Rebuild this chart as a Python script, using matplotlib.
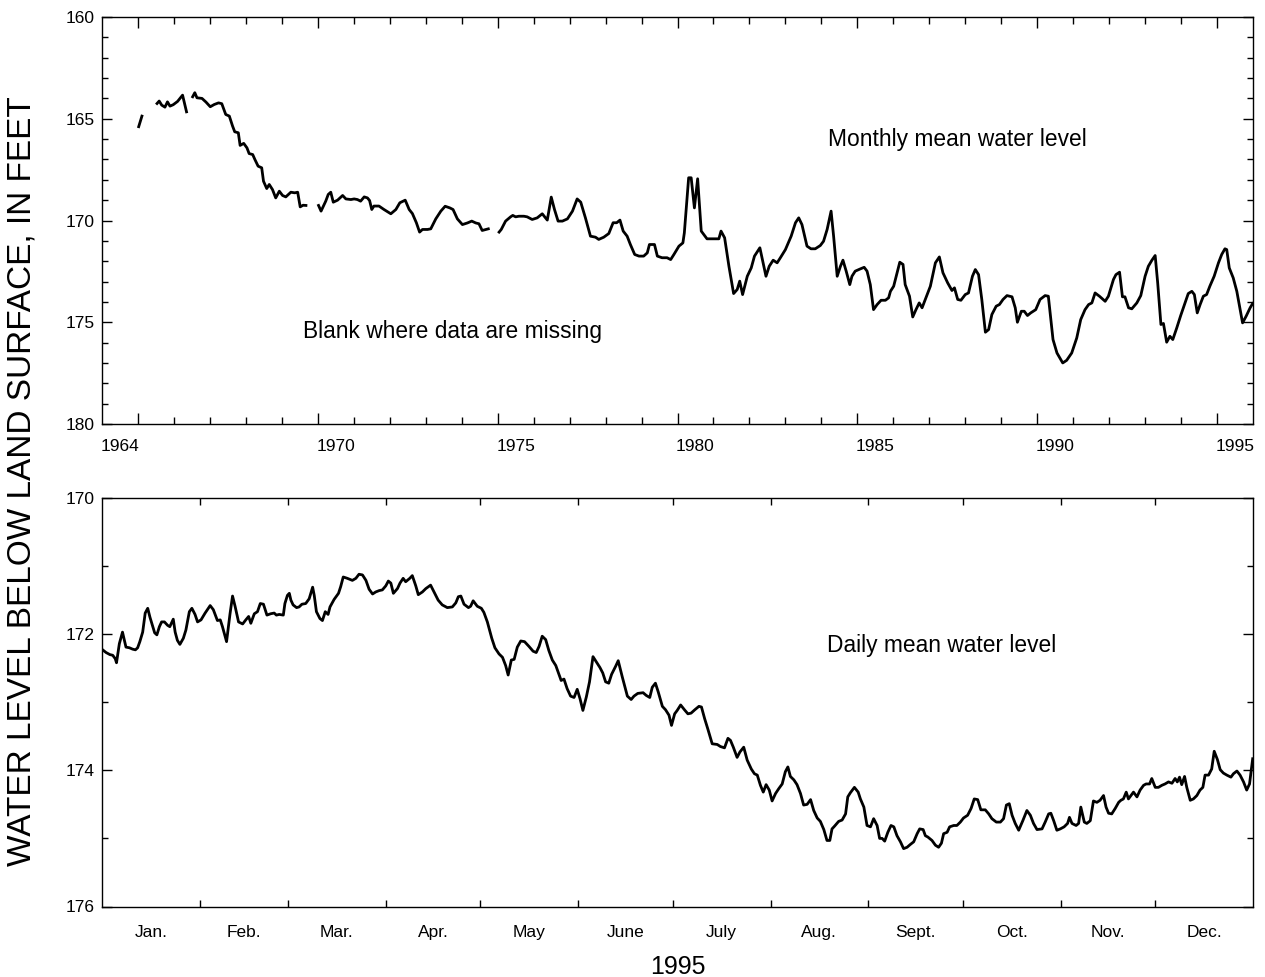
import numpy as np
import matplotlib
matplotlib.use("Agg")
import matplotlib.pyplot as plt
from matplotlib.ticker import FixedLocator, NullFormatter

plt.rcParams['font.family'] = ['Liberation Sans', 'DejaVu Sans']

NAN = float('nan')

# ---------------- Monthly mean water level (feet below land surface) ----------------
# NaN entries mark the gaps where data are missing
monthly_year = [
    1965.02, 1965.11, NAN,
    1965.53, 1965.59, 1965.66, 1965.75, 1965.82, 1965.89, 1965.98, 1966.10, 1966.24, 1966.35, NAN,
    1966.52, 1966.58, 1966.64, 1966.78, 1966.89, 1967.01, 1967.12, 1967.24, 1967.33, 1967.44,
    1967.54, 1967.63, 1967.69, 1967.79, 1967.84, 1967.94, 1968.03, 1968.09, 1968.19, 1968.25,
    1968.34, 1968.44, 1968.49, 1968.58, 1968.65, 1968.74, 1968.83, 1968.93, 1969.02, 1969.11,
    1969.25, 1969.36, 1969.44, 1969.51, 1969.59, 1969.67, NAN,
    1970.02, 1970.09, 1970.22, 1970.29, 1970.36, 1970.43, 1970.55, 1970.69, 1970.78, 1970.92,
    1971.01, 1971.10, 1971.19, 1971.29, 1971.38, 1971.44, 1971.50, 1971.56, 1971.70, 1971.84,
    1972.03, 1972.17, 1972.28, 1972.43, 1972.54, 1972.63, 1972.74, 1972.83, 1972.91, 1973.05,
    1973.14, 1973.28, 1973.42, 1973.54, 1973.67, 1973.76, 1973.88, 1974.02, 1974.16, 1974.28,
    1974.39, 1974.48, 1974.57, 1974.67, 1974.74, NAN,
    1975.04, 1975.10, 1975.22, 1975.36, 1975.42, 1975.50, 1975.59, 1975.73, 1975.82, 1975.96,
    1976.10, 1976.24, 1976.38, 1976.49, 1976.58, 1976.68, 1976.80, 1976.94, 1977.08, 1977.21,
    1977.31, 1977.44, 1977.58, 1977.72, 1977.81, 1977.95, 1978.09, 1978.21, 1978.31, 1978.40,
    1978.49, 1978.60, 1978.69, 1978.81, 1978.93, 1979.06, 1979.16, 1979.22, 1979.36, 1979.44,
    1979.57, 1979.71, 1979.81, 1979.90, 1980.04, 1980.15, 1980.19, 1980.31, 1980.38, 1980.47,
    1980.56, 1980.66, 1980.82, 1981.01, 1981.15, 1981.21, 1981.31, 1981.43, 1981.56, 1981.66,
    1981.73, 1981.81, 1981.94, 1982.05, 1982.14, 1982.29, 1982.35, 1982.46, 1982.55, 1982.66,
    1982.77, 1982.86, 1983.00, 1983.16, 1983.28, 1983.37, 1983.46, 1983.60, 1983.71, 1983.83,
    1983.97, 1984.06, 1984.16, 1984.27, 1984.34, 1984.44, 1984.53, 1984.60, 1984.69, 1984.79,
    1984.85, 1984.94, 1985.08, 1985.19, 1985.27, 1985.36, 1985.45, 1985.55, 1985.66, 1985.78,
    1985.87, 1985.92, 1986.01, 1986.08, 1986.18, 1986.27, 1986.33, 1986.45, 1986.54, 1986.63,
    1986.72, 1986.80, 1986.89, 1987.03, 1987.17, 1987.28, 1987.38, 1987.51, 1987.63, 1987.70,
    1987.79, 1987.88, 1988.00, 1988.09, 1988.20, 1988.28, 1988.37, 1988.46, 1988.56, 1988.65,
    1988.74, 1988.86, 1988.95, 1989.05, 1989.16, 1989.30, 1989.39, 1989.45, 1989.56, 1989.64,
    1989.73, 1989.82, 1989.96, 1990.08, 1990.22, 1990.31, 1990.44, 1990.55, 1990.71, 1990.82,
    1990.96, 1991.10, 1991.21, 1991.33, 1991.43, 1991.52, 1991.61, 1991.73, 1991.89, 1991.98,
    1992.12, 1992.19, 1992.29, 1992.37, 1992.44, 1992.54, 1992.63, 1992.77, 1992.88, 1993.00,
    1993.09, 1993.19, 1993.28, 1993.35, 1993.44, 1993.51, 1993.60, 1993.69, 1993.77, 1993.88,
    1993.99, 1994.08, 1994.20, 1994.30, 1994.37, 1994.45, 1994.53, 1994.62, 1994.71, 1994.80,
    1994.92, 1995.04, 1995.13, 1995.22, 1995.27, 1995.34, 1995.45, 1995.55, 1995.71, 1995.81,
    1995.92, 1995.99,
]
monthly_level = [
    165.39, 164.87, NAN,
    164.25, 164.13, 164.33, 164.43, 164.17, 164.38, 164.31, 164.15, 163.84, 164.66, NAN,
    163.92, 163.72, 163.97, 164.00, 164.18, 164.41, 164.30, 164.22, 164.26, 164.79,
    164.87, 165.36, 165.64, 165.69, 166.31, 166.21, 166.43, 166.71, 166.76, 167.00,
    167.33, 167.41, 168.07, 168.43, 168.23, 168.48, 168.89, 168.56, 168.77, 168.84,
    168.61, 168.64, 168.61, 169.33, 169.25, 169.26, NAN,
    169.26, 169.54, 169.05, 168.72, 168.61, 169.10, 169.00, 168.77, 168.94, 168.97,
    168.94, 168.97, 169.05, 168.84, 168.89, 169.02, 169.46, 169.29, 169.29, 169.46,
    169.67, 169.46, 169.13, 169.00, 169.46, 169.66, 170.11, 170.57, 170.44, 170.44,
    170.41, 169.92, 169.54, 169.30, 169.38, 169.46, 169.92, 170.20, 170.12, 170.03,
    170.12, 170.16, 170.49, 170.44, 170.41, NAN,
    170.57, 170.44, 170.03, 169.82, 169.75, 169.82, 169.79, 169.79, 169.82, 169.95,
    169.87, 169.67, 169.98, 168.85, 169.46, 170.03, 170.03, 169.92, 169.54, 168.94,
    169.10, 169.87, 170.77, 170.82, 170.93, 170.82, 170.64, 170.11, 170.11, 169.98,
    170.52, 170.77, 171.18, 171.67, 171.75, 171.75, 171.59, 171.18, 171.18, 171.75,
    171.83, 171.83, 171.92, 171.67, 171.26, 171.10, 170.61, 167.90, 167.90, 169.38,
    167.95, 170.52, 170.90, 170.90, 170.90, 170.52, 170.85, 172.25, 173.59, 173.39,
    172.98, 173.64, 172.74, 172.33, 171.75, 171.34, 171.83, 172.74, 172.25, 171.95,
    172.08, 171.83, 171.43, 170.77, 170.11, 169.87, 170.20, 171.26, 171.39, 171.39,
    171.23, 171.02, 170.44, 169.54, 170.77, 172.74, 172.25, 171.95, 172.49, 173.15,
    172.74, 172.49, 172.38, 172.30, 172.49, 173.15, 174.38, 174.13, 173.92, 173.92,
    173.80, 173.48, 173.23, 172.74, 172.05, 172.16, 173.15, 173.72, 174.74, 174.38,
    174.05, 174.29, 173.88, 173.23, 172.08, 171.79, 172.57, 173.06, 173.44, 173.31,
    173.88, 173.92, 173.64, 173.56, 172.74, 172.41, 172.66, 173.88, 175.49, 175.36,
    174.62, 174.21, 174.13, 173.88, 173.69, 173.75, 174.29, 175.00, 174.46, 174.46,
    174.67, 174.54, 174.38, 173.88, 173.69, 173.72, 175.85, 176.51, 177.00, 176.87,
    176.51, 175.77, 174.87, 174.38, 174.13, 174.05, 173.56, 173.72, 173.97, 173.72,
    172.90, 172.66, 172.54, 173.75, 173.75, 174.29, 174.34, 174.05, 173.69, 172.74,
    172.25, 171.95, 171.72, 173.06, 175.11, 175.06, 175.98, 175.69, 175.85, 175.28,
    174.67, 174.21, 173.59, 173.48, 173.64, 174.54, 174.13, 173.72, 173.64, 173.23,
    172.74, 172.08, 171.67, 171.39, 171.43, 172.33, 172.82, 173.48, 175.03, 174.70,
    174.29, 174.08,
]

# ---------------- Daily mean water level, 1995 (day of year) ----------------
daily_day = [
    0.2, 1.3, 2.5, 3.4, 4.2, 4.6, 5.5, 6.5, 7.6, 8.7, 9.7, 10.6, 11.3, 12.0, 12.9, 13.7,
    14.5, 15.2, 16.1, 16.7, 17.4, 18.2, 18.9, 19.8, 20.8, 21.5, 22.6, 23.2, 23.9, 24.7,
    25.8, 26.6, 27.7, 28.5, 29.5, 30.3, 31.4, 32.7, 34.3, 35.3, 36.6, 37.5, 38.2, 39.5,
    40.6, 41.4, 42.2, 43.3, 44.6, 45.6, 46.5, 47.2, 48.3, 49.3, 50.2, 51.2, 52.3, 53.5,
    54.6, 55.3, 56.2, 57.5, 58.0, 58.8, 59.4, 59.9, 60.6, 61.7, 62.5, 63.4, 64.6, 65.7,
    66.8, 67.3, 68.0, 69.1, 69.9, 70.8, 71.7, 72.3, 73.6, 75.0, 75.7, 76.5, 77.8, 79.4,
    80.5, 81.5, 82.6, 83.7, 84.7, 85.8, 86.8, 87.9, 88.9, 90.0, 90.8, 91.6, 92.4, 93.7,
    94.5, 95.5, 96.3, 97.6, 98.4, 99.5, 100.3, 101.6, 102.7, 104.2, 105.3, 106.6, 107.9,
    109.5, 111.1, 112.2, 113.0, 113.8, 114.8, 116.2, 116.9, 117.7, 119.0, 120.3, 121.1,
    122.2, 123.6, 124.6, 125.9, 127.0, 128.0, 128.8, 129.8, 130.7, 131.7, 132.8, 134.0,
    135.4, 136.7, 137.7, 138.6, 139.6, 140.7, 141.7, 142.8, 143.9, 144.9, 145.6, 146.5,
    147.5, 148.6, 149.7, 150.7, 151.6, 152.5, 153.6, 154.6, 155.7, 156.8, 157.9, 158.8,
    159.7, 160.7, 161.6, 162.9, 163.7, 165.0, 166.6, 167.8, 168.7, 169.9, 171.6, 172.6,
    173.7, 174.5, 175.5, 176.4, 177.7, 178.7, 179.8, 180.6, 181.6, 182.4, 183.5, 184.7,
    185.8, 186.8, 188.0, 189.3, 190.1, 191.1, 192.1, 193.5, 195.1, 196.1, 197.4, 198.5,
    199.3, 200.2, 201.4, 202.3, 203.5, 204.6, 205.9, 206.9, 207.8, 208.8, 209.7, 210.6,
    211.6, 212.5, 213.6, 214.6, 215.7, 216.7, 217.5, 218.3, 219.4, 220.4, 221.5, 222.5,
    223.6, 224.7, 225.7, 226.8, 227.8, 228.9, 229.9, 230.8, 231.5, 232.3, 233.6, 234.7,
    235.8, 236.5, 237.3, 238.6, 239.8, 240.5, 241.6, 242.6, 243.7, 244.7, 245.8, 246.6,
    247.4, 248.2, 249.2, 250.2, 251.1, 252.1, 253.2, 254.2, 255.3, 256.3, 257.4, 258.5,
    259.3, 260.4, 261.1, 261.9, 263.2, 264.3, 265.3, 266.2, 266.9, 268.0, 268.8, 270.1,
    271.1, 272.2, 273.2, 274.5, 275.6, 276.6, 277.7, 278.7, 280.1, 281.2, 282.2, 283.6,
    284.9, 285.9, 286.8, 287.7, 288.6, 289.6, 290.7, 292.0, 293.3, 294.4, 295.4, 296.5,
    298.1, 299.1, 300.2, 300.9, 301.8, 302.8, 303.9, 305.1, 306.2, 306.8, 307.6, 308.9,
    309.7, 310.4, 311.5, 312.3, 313.4, 314.4, 315.5, 316.5, 317.6, 318.4, 319.2, 320.2,
    321.3, 322.4, 323.1, 323.9, 324.8, 325.5, 326.3, 327.1, 328.2, 329.2, 330.3, 331.1,
    332.2, 332.9, 334.0, 335.0, 336.1, 337.1, 338.2, 339.3, 340.3, 341.0, 341.7, 342.4,
    343.3, 344.0, 345.1, 346.1, 347.2, 348.2, 349.1, 349.8, 350.9, 351.9, 352.7, 353.7,
    354.6, 355.6, 356.7, 358.0, 358.8, 359.9, 360.9, 362.0, 363.0, 363.9, 364.9,
]
daily_level = [
    172.23, 172.27, 172.30, 172.31, 172.36, 172.42, 172.14, 171.97, 172.19, 172.20, 172.22, 172.23, 172.20, 172.11, 171.97, 171.69,
    171.62, 171.75, 171.89, 171.98, 172.01, 171.89, 171.82, 171.82, 171.87, 171.89, 171.78, 171.97, 172.09, 172.15,
    172.06, 171.94, 171.67, 171.62, 171.71, 171.82, 171.79, 171.69, 171.58, 171.64, 171.80, 171.79, 171.89, 172.11,
    171.70, 171.44, 171.59, 171.82, 171.85, 171.79, 171.74, 171.84, 171.70, 171.67, 171.55, 171.56, 171.72, 171.70,
    171.69, 171.72, 171.71, 171.72, 171.55, 171.43, 171.40, 171.50, 171.57, 171.61, 171.60, 171.56, 171.55, 171.48,
    171.31, 171.43, 171.67, 171.77, 171.80, 171.67, 171.71, 171.60, 171.49, 171.40, 171.30, 171.16, 171.18, 171.21,
    171.18, 171.12, 171.13, 171.21, 171.34, 171.41, 171.38, 171.36, 171.35, 171.29, 171.22, 171.25, 171.40, 171.33,
    171.25, 171.18, 171.23, 171.18, 171.14, 171.29, 171.42, 171.38, 171.33, 171.28, 171.38, 171.50, 171.57,
    171.61, 171.60, 171.54, 171.45, 171.44, 171.56, 171.61, 171.59, 171.51, 171.59, 171.62, 171.68,
    171.82, 172.06, 172.20, 172.29, 172.34, 172.46, 172.60, 172.38, 172.37, 172.19, 172.10, 172.11,
    172.18, 172.25, 172.27, 172.18, 172.03, 172.08, 172.24, 172.38, 172.46, 172.59, 172.68, 172.66,
    172.80, 172.91, 172.93, 172.81, 172.95, 173.12, 172.92, 172.70, 172.33, 172.41, 172.49, 172.57,
    172.70, 172.72, 172.59, 172.47, 172.39, 172.63, 172.91, 172.96, 172.91, 172.87, 172.86, 172.90,
    172.93, 172.78, 172.72, 172.85, 173.06, 173.11, 173.19, 173.34, 173.17, 173.12, 173.04, 173.11,
    173.17, 173.16, 173.11, 173.06, 173.07, 173.24, 173.39, 173.61, 173.62, 173.65, 173.67, 173.53,
    173.56, 173.66, 173.81, 173.73, 173.66, 173.85, 173.98, 174.05, 174.07, 174.22, 174.32, 174.21,
    174.29, 174.45, 174.34, 174.27, 174.20, 174.02, 173.95, 174.09, 174.14, 174.21, 174.34, 174.51,
    174.50, 174.43, 174.59, 174.70, 174.75, 174.87, 175.03, 175.03, 174.86, 174.82, 174.75, 174.73,
    174.64, 174.39, 174.33, 174.25, 174.32, 174.42, 174.54, 174.81, 174.83, 174.71, 174.81, 175.00,
    175.00, 175.04, 174.91, 174.81, 174.83, 174.96, 175.05, 175.15, 175.13, 175.09, 175.05, 174.93,
    174.86, 174.87, 174.96, 174.98, 175.03, 175.10, 175.13, 175.07, 174.93, 174.91, 174.83, 174.81,
    174.81, 174.76, 174.70, 174.66, 174.56, 174.42, 174.43, 174.58, 174.58, 174.64, 174.71, 174.76,
    174.76, 174.71, 174.51, 174.49, 174.66, 174.78, 174.88, 174.74, 174.59, 174.66, 174.78, 174.87,
    174.86, 174.76, 174.64, 174.63, 174.74, 174.88, 174.86, 174.83, 174.78, 174.69, 174.78, 174.81,
    174.78, 174.54, 174.76, 174.78, 174.74, 174.45, 174.47, 174.44, 174.37, 174.54, 174.63, 174.64,
    174.56, 174.47, 174.44, 174.42, 174.32, 174.42, 174.37, 174.32, 174.39, 174.29, 174.22, 174.20,
    174.20, 174.12, 174.25, 174.25, 174.22, 174.20, 174.17, 174.19, 174.12, 174.17, 174.10, 174.21,
    174.09, 174.25, 174.44, 174.42, 174.37, 174.29, 174.25, 174.07, 174.07, 173.98, 173.72, 173.84,
    173.99, 174.04, 174.07, 174.10, 174.05, 174.01, 174.07, 174.17, 174.29, 174.20, 173.83,
]

# ---------------- Axis labels ----------------
year_label_pos = [1964.5, 1970.5, 1975.5, 1980.5, 1985.5, 1990.5, 1995.5]
year_labels = ['1964', '1970', '1975', '1980', '1985', '1990', '1995']
month_labels = ['Jan.', 'Feb.', 'Mar.', 'Apr.', 'May', 'June', 'July', 'Aug.',
                'Sept.', 'Oct.', 'Nov.', 'Dec.']
month_lengths = [31, 28, 31, 30, 31, 30, 31, 31, 30, 31, 30, 31]

W, H = 1265, 977
fig = plt.figure(figsize=(W / 100, H / 100), dpi=100)
ax1 = fig.add_axes([102 / W, 1 - 424 / H, 1151 / W, 407 / H])
ax2 = fig.add_axes([102 / W, 1 - 906.5 / H, 1151 / W, 408.5 / H])

line_kw = dict(color='black', lw=2.0)
tick_fs = 12.5
note_fs = 16.4

# ---- top panel ----
ax1.plot(monthly_year, monthly_level, **line_kw)
ax1.set_xlim(1964, 1996)
ax1.set_ylim(180, 160)
ax1.xaxis.set_major_locator(FixedLocator(list(range(1965, 1996, 5))))
ax1.xaxis.set_minor_locator(FixedLocator(list(range(1965, 1996))))
ax1.xaxis.set_major_formatter(NullFormatter())
ax1.tick_params(axis='x', which='major', direction='in', length=8, width=1,
                top=True, bottom=True, labelbottom=False)
ax1.tick_params(axis='x', which='minor', direction='in', length=5, width=1,
                top=True, bottom=True)
sec = ax1.secondary_xaxis('bottom')
sec.set_xticks(year_label_pos, year_labels)
sec.tick_params(length=0, pad=11, labelsize=tick_fs)
sec.spines['bottom'].set_visible(False)

ax1.yaxis.set_major_locator(FixedLocator([160, 165, 170, 175, 180]))
ax1.yaxis.set_minor_locator(FixedLocator(list(range(160, 181))))
ax1.tick_params(axis='y', which='major', direction='in', length=7.5, width=1,
                left=True, right=True, pad=5, labelsize=tick_fs)
ax1.tick_params(axis='y', which='minor', direction='in', length=4.5, width=1,
                left=True, right=True)

ax1.text(1984.19, 166.35, 'Monthly mean water level', fontsize=note_fs,
         ha='left', va='baseline')
ax1.text(1969.59, 175.77, 'Blank where data are missing', fontsize=note_fs,
         ha='left', va='baseline')

# ---- bottom panel ----
ax2.plot(daily_day, daily_level, **line_kw)
ax2.set_xlim(0, 365)
ax2.set_ylim(176, 170)
bounds = list(np.cumsum(month_lengths))
starts = [0] + bounds[:-1]
mids = [s + n / 2 for s, n in zip(starts, month_lengths)]
ax2.set_xticks(mids, month_labels)
ax2.xaxis.set_minor_locator(FixedLocator(bounds[:-1]))
ax2.tick_params(axis='x', which='major', length=0, pad=13, labelsize=tick_fs)
ax2.tick_params(axis='x', which='minor', direction='in', length=5, width=1,
                top=True, bottom=True)
ax2.yaxis.set_major_locator(FixedLocator([170, 172, 174, 176]))
ax2.yaxis.set_minor_locator(FixedLocator([171, 173, 175]))
ax2.tick_params(axis='y', which='major', direction='in', length=7.5, width=1,
                left=True, right=True, pad=5, labelsize=tick_fs)
ax2.tick_params(axis='y', which='minor', direction='in', length=4.5, width=1,
                left=True, right=True)
ax2.set_xlabel('1995', fontsize=18, labelpad=11)

ax2.text(229.9, 172.26, 'Daily mean water level', fontsize=note_fs,
         ha='left', va='baseline')

for ax in (ax1, ax2):
    for sp in ax.spines.values():
        sp.set_linewidth(1.0)

fig.text(22 / W, 1 - 481 / H, 'WATER LEVEL BELOW LAND SURFACE, IN FEET',
         rotation=90, fontsize=24, ha='center', va='center')

fig.savefig('out.png', dpi=100)
